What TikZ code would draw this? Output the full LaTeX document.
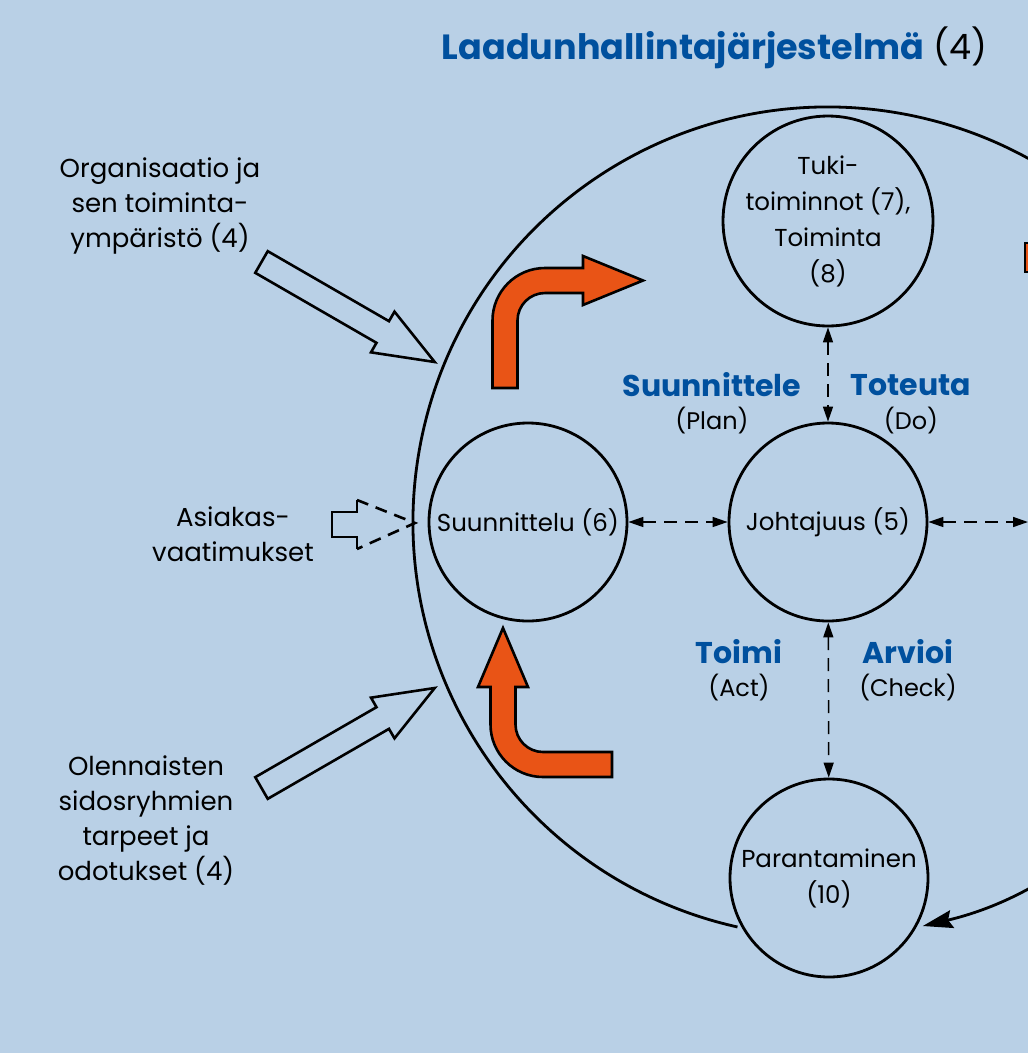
\documentclass[tikz,border=0pt]{standalone}
\usepackage{fontspec}
\setmainfont{Poppins}
\usetikzlibrary{arrows.meta}

\definecolor{tausta}{RGB}{185,208,230}
\definecolor{otsikko}{RGB}{0,80,158}
\definecolor{oranssi}{RGB}{233,84,22}

\tikzset{
  ympyra/.style={draw, circle, line width=2.8pt, minimum size=198pt, inner sep=0pt,
    align=center, font=\fontsize{24.5}{36}\selectfont},
  teksti/.style={align=center, font=\fontsize{26}{35}\selectfont},
  vaihe/.style={font=\fontsize{30}{36}\selectfont\bfseries, text=otsikko},
  alavaihe/.style={font=\fontsize{24}{36}\selectfont},
  yhteys/.style={line width=1.5pt, dash pattern=on 13pt off 8pt,
    {Triangle[length=15pt,width=10pt]}-{Triangle[length=15pt,width=10pt]}},
  nuoli/.style={draw=black, fill=oranssi, line width=2.6pt, line join=miter},
  pics/avonuoli/.style={code={
    \draw[line width=2.6pt] (0,-12.5) -- (140,-12.5) -- (140,-23.5) -- (200,0)
      -- (140,23.5) -- (140,12.5) -- (0,12.5) -- cycle;}}
}

\begin{document}
\begin{tikzpicture}[x=1pt,y=-1pt]
    \fill[tausta] (0,0) rectangle (1028,1053);
    \clip (0,0) rectangle (1028,1053);

    % otsikko
    \node[anchor=east, font=\fontsize{35}{40}\selectfont] (otsikko) at (991,48)
      {\textcolor{otsikko}{\bfseries Laadunhallintajärjestelmä} (4)};

    % iso kehä
    \coordinate (keski) at (828,522);
    \draw[line width=2.8pt, -{Stealth[length=30pt,width=18pt,inset=4pt]}]
      (keski) ++(102.6:415) arc[start angle=102.6, end angle=436.8, radius=415];

    % ympyrät
    \node[ympyra] (tuki) at (828,221) {Tuki-\\toiminnot (7),\\Toiminta\\(8)};
    \node[ympyra] (suunnittelu) at (528,522) {Suunnittelu (6)};
    \node[ympyra] (johtajuus) at (828,522) {Johtajuus (5)};
    \node[ympyra] (parantaminen) at (829,878) {Parantaminen\\(10)};
    \coordinate (oikea) at (1028,522);

    \draw[yhteys] (tuki) -- (johtajuus);
    \draw[yhteys] (suunnittelu) -- (johtajuus);
    \draw[yhteys] (johtajuus) -- (oikea);
    \draw[yhteys] (johtajuus) -- (parantaminen);

    % PDCA
    \node[vaihe] (plan) at (712,385) {Suunnittele};
    \node[alavaihe] (plan-en) at (712,421) {(Plan)};
    \node[vaihe] (do) at (911,385) {Toteuta};
    \node[alavaihe] (do-en) at (911,421) {(Do)};
    \node[vaihe] (act) at (739,652) {Toimi};
    \node[alavaihe] (act-en) at (739,688) {(Act)};
    \node[vaihe] (check) at (908,652) {Arvioi};
    \node[alavaihe] (check-en) at (908,688) {(Check)};

    % syötteet
    \node[teksti] (organisaatio) at (160,206) {Organisaatio ja\\sen toiminta-\\ympäristö (4)};
    \node[teksti] (asiakas) at (233,534) {Asiakas-\\vaatimukset};
    \node[teksti] (sidosryhmat) at (146,821) {Olennaisten\\sidosryhmien\\tarpeet ja\\odotukset (4)};

    \pic[rotate=-30] at (261.5,262) {avonuoli};
    \pic[rotate=30] at (261.5,788) {avonuoli};

    \draw[line width=2.6pt] (357,500) -- (357,512) -- (332,512) -- (332,537) -- (357,537) -- (357,549);
    \draw[line width=2.6pt, dash pattern=on 12pt off 8pt] (357,500) -- (415,523) -- (357,549);

    % oranssit nuolet
    \draw[nuoli] (492.5,388) -- (492.5,320.5) arc[start angle=180, end angle=270, radius=52.5]
      -- (583,268) -- (583,256) -- (643,280.5) -- (583,305) -- (583,293) -- (545,293)
      arc[start angle=270, end angle=180, radius=27.5] -- (517.5,388) -- cycle;
    \draw[nuoli] (612,752) -- (543,752) arc[start angle=90, end angle=180, radius=27.5]
      -- (515.5,687) -- (528,687) -- (503,628) -- (478,687) -- (490.5,687) -- (490.5,724.5)
      arc[start angle=180, end angle=90, radius=52.5] -- (612,777) -- cycle;
    \draw[nuoli] (1025,243) rectangle (1045,272);

\end{tikzpicture}
\end{document}
